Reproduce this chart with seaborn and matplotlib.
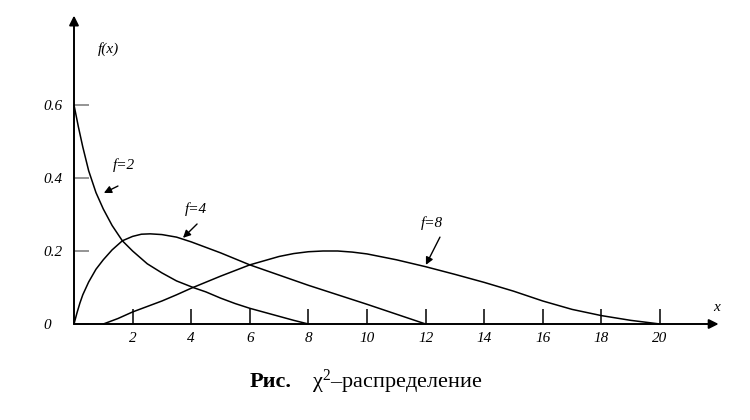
import matplotlib
matplotlib.use("Agg")
import matplotlib.pyplot as plt
import seaborn as sns
import pandas as pd

# values (hand drawn curves)
x_f2 = [0, 0.15, 0.3, 0.5, 0.75, 1.0, 1.3, 1.65, 2.0, 2.5, 3.0, 3.5, 4.1, 4.5, 5, 5.5, 6, 6.5, 7, 7.5, 8]
y_f2 = [0.6, 0.54, 0.485, 0.42, 0.36, 0.315, 0.27, 0.228, 0.2, 0.165, 0.14, 0.118, 0.099, 0.088, 0.071,
        0.056, 0.043, 0.032, 0.021, 0.01, 0]

x_f4 = [0, 0.1, 0.2, 0.3, 0.5, 0.75, 1.0, 1.3, 1.65, 2.0, 2.3, 2.6, 3.0, 3.5, 4, 5, 6, 7, 8, 9, 10, 11, 12]
y_f4 = [0, 0.03, 0.057, 0.08, 0.115, 0.15, 0.176, 0.203, 0.228, 0.24, 0.246, 0.247, 0.245, 0.238, 0.225,
        0.195, 0.162, 0.134, 0.106, 0.08, 0.054, 0.027, 0]

x_f8 = [1, 1.5, 2, 2.5, 3, 3.5, 4, 5, 6, 7, 7.5, 8, 8.5, 9, 9.5, 10, 11, 12, 13, 14, 15, 16, 17, 18, 19, 20]
y_f8 = [0, 0.015, 0.033, 0.048, 0.063, 0.08, 0.098, 0.131, 0.162, 0.185, 0.193, 0.198, 0.2, 0.2, 0.197,
        0.192, 0.176, 0.157, 0.136, 0.114, 0.09, 0.063, 0.04, 0.023, 0.01, 0]

x_ticks = [2, 4, 6, 8, 10, 12, 14, 16, 18, 20]
x_tick_colors = ['#777777', 'black', '#777777', 'black', '#777777', 'black', '#777777', 'black', 'black', '#777777']
y_ticks = [0, 0.2, 0.4, 0.6]
y_tick_labels = ['0', '0.2', '0.4', '0.6']

curve_names = ['f=2', 'f=4', 'f=8']

df = pd.concat([
    pd.DataFrame({'x': x_f2, 'y': y_f2, 'f': 'f=2'}),
    pd.DataFrame({'x': x_f4, 'y': y_f4, 'f': 'f=4'}),
    pd.DataFrame({'x': x_f8, 'y': y_f8, 'f': 'f=8'}),
])

sns.set_style('white')
plt.rcParams['font.family'] = ['Liberation Serif', 'DejaVu Serif']
plt.rcParams['text.color'] = 'black'
plt.rcParams['xtick.color'] = 'black'
plt.rcParams['ytick.color'] = 'black'
plt.rcParams['mathtext.fontset'] = 'custom'
plt.rcParams['mathtext.rm'] = 'Liberation Serif'
plt.rcParams['mathtext.it'] = 'Liberation Serif:italic'

fig = plt.figure(figsize=(7.5, 4.2), dpi=100)
ax = fig.add_axes([74 / 750, 96 / 420, 656 / 750, 314 / 420])

sns.lineplot(data=df, x='x', y='y', hue='f', palette=['black'] * 3, estimator=None,
             linewidth=1.1, legend=False, ax=ax)
for ln in ax.lines:
    ln.set_clip_on(False)

ax.set_xlim(0, 656 / 29.3)
ax.set_ylim(0, 314 / 365)
for s in ax.spines.values():
    s.set_visible(False)
ax.set_xlabel('')
ax.set_ylabel('')

# ticks
ax.set_xticks(x_ticks, [str(t) for t in x_ticks], fontsize=11, style='italic')
ax.tick_params(axis='x', bottom=True, direction='in', length=11, width=1.1, pad=6,
               labelcolor='black')
for t, c in zip(ax.xaxis.get_major_ticks(), x_tick_colors):
    t.tick1line.set_color(c)
ax.set_yticks(y_ticks, y_tick_labels, fontsize=11, style='italic')
ax.tick_params(axis='y', left=True, direction='in', length=11, width=1.1, color='#777777', pad=22,
               labelcolor='black')
for lbl in ax.get_yticklabels():
    lbl.set_horizontalalignment('left')

# axes with arrows
arrow = dict(arrowstyle='-|>', color='black', lw=1.4, mutation_scale=14, shrinkA=0, shrinkB=0)
ax.annotate('', xy=(22.0, 0), xytext=(0, 0), arrowprops=arrow, annotation_clip=False)
ax.annotate('', xy=(0, 0.845), xytext=(0, 0), arrowprops=arrow, annotation_clip=False)

ax.text(0.82, 0.753, 'f(x)', fontsize=11, style='italic', va='center')
ax.text(21.8, 0.044, 'x', fontsize=11, style='italic', va='center')

# curve labels with pointers
label_pos = [(1.33, 0.436), (3.79, 0.315), (11.84, 0.277)]
arrow_tail = [(1.50, 0.378), (4.20, 0.274), (12.49, 0.238)]
arrow_head = [(1.02, 0.359), (3.72, 0.236), (12.01, 0.162)]
small = dict(arrowstyle='-|>', color='black', lw=1.0, mutation_scale=11, shrinkA=0, shrinkB=0)
for name, p, a, b in zip(curve_names, label_pos, arrow_tail, arrow_head):
    ax.text(p[0], p[1], name, fontsize=11, style='italic', va='center')
    ax.annotate('', xy=b, xytext=a, arrowprops=small)

# caption
fig.text(250 / 750, 1 - 382 / 420, 'Рис.', fontsize=16, weight='bold', va='center')
fig.text(312 / 750, 1 - 382 / 420, 'χ$^{2}$–распределение', fontsize=16, va='center')

fig.savefig('out.png', dpi=100)
